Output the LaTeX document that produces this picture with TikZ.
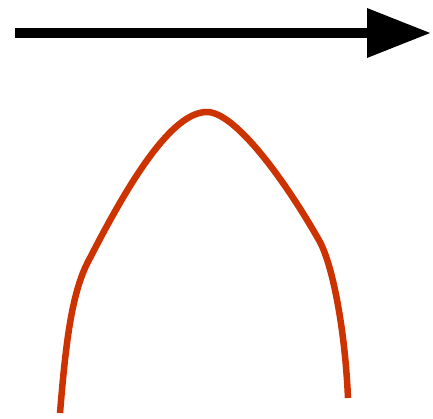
\documentclass[tikz,border=0pt]{standalone}
\usetikzlibrary{arrows.meta}
\definecolor{archred}{HTML}{CC3300}
\begin{document}
\begin{tikzpicture}[x=1pt,y=-1pt,
  bigarrow/.style={line width=10pt,-{Triangle[length=64pt,width=47pt]}},
  arch/.style={archred,line width=6.5pt,line join=round}]
\useasboundingbox (0,0) rectangle (433,419);
\coordinate (a) at (15,33);
\coordinate (b) at (431,33);
\coordinate (s) at (60,413);
\coordinate (l) at (90,258);
\coordinate (p) at (207,112);
\coordinate (r) at (320,242);
\coordinate (e) at (348,398);
\draw[bigarrow] (a) -- (b);
\draw[arch] (s) .. controls (66,340) and (72,290) .. (l)
  .. controls (130,180) and (172,112) .. (p)
  .. controls (235,112) and (285,180) .. (r)
  .. controls (333,267) and (345,330) .. (e);
\end{tikzpicture}
\end{document}
